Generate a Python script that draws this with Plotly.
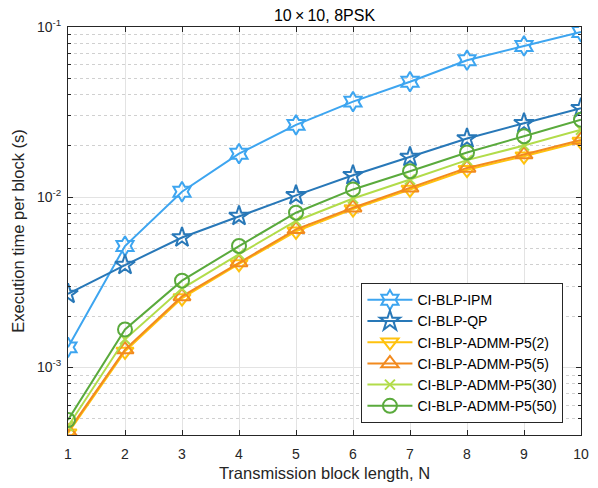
import plotly.graph_objects as go

# Transmission block length
block_len = [1, 2, 3, 4, 5, 6, 7, 8, 9, 10]

# Execution time per block (s)
t_ipm = [1.31e-3, 5.16e-3, 1.076e-2, 1.80e-2, 2.66e-2, 3.64e-2, 4.77e-2, 6.38e-2, 7.74e-2, 9.35e-2]
t_qp = [2.70e-3, 3.99e-3, 5.79e-3, 7.74e-3, 1.025e-2, 1.345e-2, 1.72e-2, 2.21e-2, 2.72e-2, 3.33e-2]
t_admm2 = [4.10e-4, 1.24e-3, 2.55e-3, 4.05e-3, 6.30e-3, 8.50e-3, 1.11e-2, 1.45e-2, 1.74e-2, 2.12e-2]
t_admm5 = [4.19e-4, 1.27e-3, 2.61e-3, 4.13e-3, 6.47e-3, 8.67e-3, 1.135e-2, 1.485e-2, 1.78e-2, 2.17e-2]
t_admm30 = [4.50e-4, 1.46e-3, 2.90e-3, 4.62e-3, 7.24e-3, 9.81e-3, 1.27e-2, 1.65e-2, 2.01e-2, 2.49e-2]
t_admm50 = [4.90e-4, 1.67e-3, 3.23e-3, 5.16e-3, 8.10e-3, 1.11e-2, 1.42e-2, 1.83e-2, 2.28e-2, 2.85e-2]

series = [
    ("CI-BLP-IPM", t_ipm, "#3DA5F0", "hexagram-open", 15),
    ("CI-BLP-QP", t_qp, "#2878B8", "star-open", 15),
    ("CI-BLP-ADMM-P5(2)", t_admm2, "#FFC20E", "triangle-down-open", 15),
    ("CI-BLP-ADMM-P5(5)", t_admm5, "#F28A1E", "triangle-up-open", 15),
    ("CI-BLP-ADMM-P5(30)", t_admm30, "#B2DC4A", "x-thin-open", 10),
    ("CI-BLP-ADMM-P5(50)", t_admm50, "#5AAA3C", "circle-open", 14),
]

fig = go.Figure()
for name, vals, color, symbol, size in series:
    fig.add_trace(go.Scatter(
        x=block_len, y=vals, name=name, mode="lines+markers",
        line=dict(color=color, width=2),
        marker=dict(symbol=symbol, size=size, color=color,
                    line=dict(color=color, width=2)),
    ))

minor_vals = [k * 10.0 ** e for e in (-4, -3, -2) for k in range(2, 10)]
base_font = dict(family="Liberation Sans, Arial, sans-serif", size=14, color="#262626")

fig.update_layout(
    width=598, height=488,
    margin=dict(l=68, r=9, t=27, b=50),
    paper_bgcolor="white", plot_bgcolor="white",
    font=base_font,
    title=dict(text="10\u2009×\u200910, 8PSK", x=0.5, xanchor="center",
               xref="paper", y=1 - 15.5 / 488, yanchor="middle",
               font=dict(size=16, color="#000000")),
    xaxis=dict(
        range=[1, 10], tickvals=block_len, ticks="inside", ticklen=5,
        tickcolor="#262626", showline=True, linecolor="#262626", linewidth=1,
        mirror="allticks", showgrid=True, gridcolor="#E3E3E3", gridwidth=1,
        zeroline=False, ticklabelstandoff=6,
        title=dict(text="Transmission block length, N", font=dict(size=16.5), standoff=6),
    ),
    yaxis=dict(
        type="log", range=[-3.398, -1],
        tickvals=[1e-3, 1e-2, 1e-1],
        ticktext=["10<sup>-3</sup>", "10<sup>-2</sup>", "10<sup>-1</sup>"],
        ticks="inside", ticklen=5, tickcolor="#262626",
        showline=True, linecolor="#262626", linewidth=1, mirror="allticks",
        showgrid=True, gridcolor="#E3E3E3", gridwidth=1, zeroline=False,
        ticklabelstandoff=3,
        minor=dict(tickvals=minor_vals, ticks="inside", ticklen=3,
                   tickcolor="#262626", showgrid=True, gridcolor="#D0D0D0",
                   griddash="dot", gridwidth=1),
        title=dict(text="Execution time per block (s)", font=dict(size=16.5), standoff=8),
    ),
    legend=dict(
        x=0.572, y=0.372, xanchor="left", yanchor="top",
        bgcolor="white", bordercolor="#262626", borderwidth=1,
        font=dict(size=14, color="#000000"), itemwidth=45,
        tracegroupgap=0,
    ),
)

fig.write_html("out.html")
